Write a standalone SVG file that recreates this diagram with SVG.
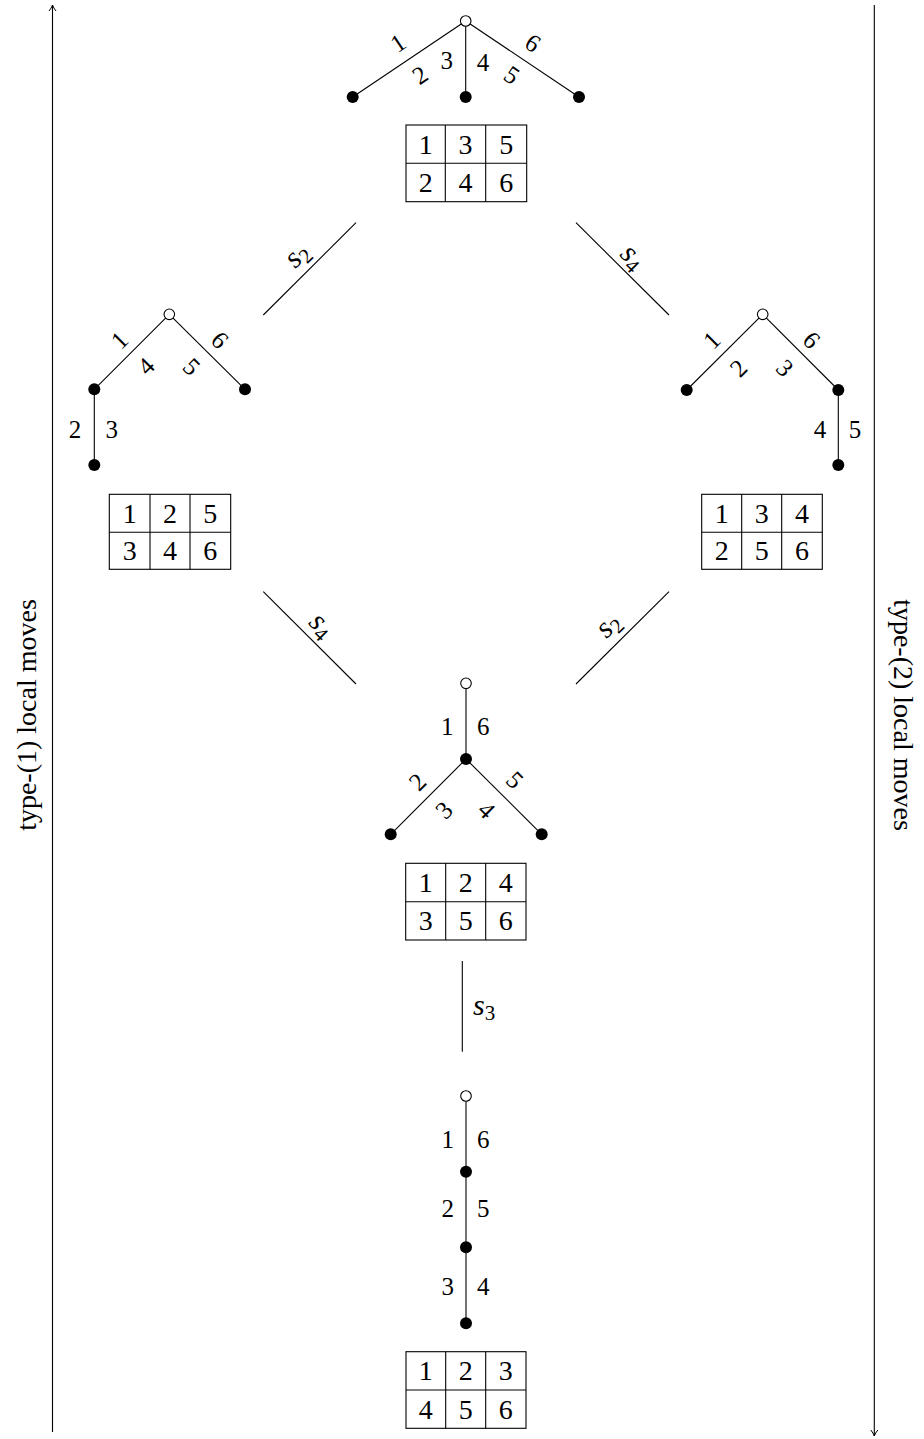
<svg xmlns="http://www.w3.org/2000/svg" width="924" height="1439" viewBox="0 0 924 1439">
<style>
text{font-family:"Liberation Serif","Times New Roman",serif;fill:#000}
.lb{font-size:25px;text-anchor:middle}
.tb{font-size:28px;text-anchor:middle}
.side{font-size:28px;text-anchor:middle}
.sl{font-size:30px;font-style:italic;text-anchor:middle}
.sub{font-size:21px;font-style:normal}
.e{stroke:#000;stroke-width:1.1;fill:none}
.c{stroke:#000;stroke-width:1.1;fill:none}
.grid{stroke:#000;stroke-width:1.1;fill:none}
.f{fill:#000}
.o{fill:#fff;stroke:#000;stroke-width:1.1}
</style>
<defs>
<marker id="ah" markerWidth="12" markerHeight="12" refX="8" refY="6" orient="auto" markerUnits="userSpaceOnUse">
<path d="M2,2.5 Q5,5 8,6 Q5,7 2,9.5" fill="none" stroke="#000" stroke-width="1"/>
</marker>
</defs>
<rect width="924" height="1439" fill="#fff"/>

<g id="side-left">
<line x1="52.5" y1="1432" x2="52.5" y2="5" class="c" marker-end="url(#ah)"/>
<text class="side" transform="translate(36,715) rotate(-90)">type-(1) local moves</text>
</g>
<g id="side-right">
<line x1="874.3" y1="5" x2="874.3" y2="1436" class="c" marker-end="url(#ah)"/>
<text class="side" transform="translate(894,715) rotate(90)">type-(2) local moves</text>
</g>

<g id="connectors">
<line class="c" x1="263.3" y1="315" x2="356" y2="222.7"/>
<text class="sl" transform="translate(296.7,255) rotate(-45)" dy="0.3em">s<tspan class="sub" dy="5">2</tspan></text>
<line class="c" x1="576" y1="222.7" x2="669" y2="315"/>
<text class="sl" transform="translate(633,256.7) rotate(45)" dy="0.3em">s<tspan class="sub" dy="5">4</tspan></text>
<line class="c" x1="263.3" y1="591.7" x2="356" y2="684"/>
<text class="sl" transform="translate(321.7,625) rotate(45)" dy="0.3em">s<tspan class="sub" dy="5">4</tspan></text>
<line class="c" x1="669" y1="591.7" x2="576" y2="684"/>
<text class="sl" transform="translate(608,625) rotate(-45)" dy="0.3em">s<tspan class="sub" dy="5">2</tspan></text>
<line class="c" x1="462.3" y1="961" x2="462.3" y2="1051.7"/>
<text class="sl" x="473" y="1015" style="text-anchor:start">s<tspan class="sub" dy="5">3</tspan></text>
</g>

<g id="node-top">
<line class="e" x1="465.7" y1="21" x2="352.7" y2="97"/>
<line class="e" x1="465.7" y1="21" x2="465.7" y2="97"/>
<line class="e" x1="465.7" y1="21" x2="579" y2="97"/>
<circle class="o" cx="465.7" cy="21" r="5.3"/>
<circle class="f" cx="352.7" cy="97" r="6"/>
<circle class="f" cx="465.7" cy="97" r="6"/>
<circle class="f" cx="579" cy="97" r="6"/>
<text class="lb" transform="translate(398,43) rotate(-33.9)" dy="0.34em">1</text>
<text class="lb" transform="translate(420,75) rotate(-33.9)" dy="0.34em">2</text>
<text class="lb" x="446.7" y="60" dy="0.34em">3</text>
<text class="lb" x="483" y="62" dy="0.34em">4</text>
<text class="lb" transform="translate(512,75) rotate(33.9)" dy="0.34em">5</text>
<text class="lb" transform="translate(533,43) rotate(33.9)" dy="0.34em">6</text>
<rect class="grid" x="406" y="125" width="120.7" height="76.7"/>
<line class="grid" x1="406" y1="163.3" x2="526.7" y2="163.3"/>
<line class="grid" x1="445.3" y1="125" x2="445.3" y2="201.7"/>
<line class="grid" x1="485.7" y1="125" x2="485.7" y2="201.7"/>
<text class="tb" x="425.7" y="144.2" dy="0.34em">1</text>
<text class="tb" x="465.5" y="144.2" dy="0.34em">3</text>
<text class="tb" x="506.2" y="144.2" dy="0.34em">5</text>
<text class="tb" x="425.7" y="182.5" dy="0.34em">2</text>
<text class="tb" x="465.5" y="182.5" dy="0.34em">4</text>
<text class="tb" x="506.2" y="182.5" dy="0.34em">6</text>
</g>

<g id="node-left">
<line class="e" x1="169.3" y1="314.3" x2="94.3" y2="389.3"/>
<line class="e" x1="169.3" y1="314.3" x2="245" y2="389.3"/>
<line class="e" x1="94.3" y1="389.3" x2="94.3" y2="465"/>
<circle class="o" cx="169.3" cy="314.3" r="5.3"/>
<circle class="f" cx="94.3" cy="389.3" r="6"/>
<circle class="f" cx="245" cy="389.3" r="6"/>
<circle class="f" cx="94.3" cy="465" r="6"/>
<text class="lb" transform="translate(119.3,340) rotate(-45)" dy="0.34em">1</text>
<text class="lb" transform="translate(146,366) rotate(-45)" dy="0.34em">4</text>
<text class="lb" transform="translate(191.7,366.7) rotate(45)" dy="0.34em">5</text>
<text class="lb" transform="translate(220,340) rotate(45)" dy="0.34em">6</text>
<text class="lb" x="75" y="429" dy="0.34em">2</text>
<text class="lb" x="111.7" y="429" dy="0.34em">3</text>
<rect class="grid" x="109.3" y="494.3" width="121.4" height="75"/>
<line class="grid" x1="109.3" y1="532.3" x2="230.7" y2="532.3"/>
<line class="grid" x1="150" y1="494.3" x2="150" y2="569.3"/>
<line class="grid" x1="190" y1="494.3" x2="190" y2="569.3"/>
<text class="tb" x="129.7" y="513.3" dy="0.34em">1</text>
<text class="tb" x="170" y="513.3" dy="0.34em">2</text>
<text class="tb" x="210.3" y="513.3" dy="0.34em">5</text>
<text class="tb" x="129.7" y="550.8" dy="0.34em">3</text>
<text class="tb" x="170" y="550.8" dy="0.34em">4</text>
<text class="tb" x="210.3" y="550.8" dy="0.34em">6</text>
</g>

<g id="node-right">
<line class="e" x1="762.7" y1="314.3" x2="686.7" y2="390"/>
<line class="e" x1="762.7" y1="314.3" x2="838.3" y2="390"/>
<line class="e" x1="838.3" y1="390" x2="838.3" y2="465"/>
<circle class="o" cx="762.7" cy="314.3" r="5.3"/>
<circle class="f" cx="686.7" cy="390" r="6"/>
<circle class="f" cx="838.3" cy="390" r="6"/>
<circle class="f" cx="838.3" cy="465" r="6"/>
<text class="lb" transform="translate(711.7,340) rotate(-45)" dy="0.34em">1</text>
<text class="lb" transform="translate(738.3,368) rotate(-45)" dy="0.34em">2</text>
<text class="lb" transform="translate(785,368) rotate(45)" dy="0.34em">3</text>
<text class="lb" transform="translate(811.7,340) rotate(45)" dy="0.34em">6</text>
<text class="lb" x="820" y="429" dy="0.34em">4</text>
<text class="lb" x="855" y="429" dy="0.34em">5</text>
<rect class="grid" x="701.7" y="494.3" width="120.6" height="75"/>
<line class="grid" x1="701.7" y1="532.3" x2="822.3" y2="532.3"/>
<line class="grid" x1="741.7" y1="494.3" x2="741.7" y2="569.3"/>
<line class="grid" x1="781.7" y1="494.3" x2="781.7" y2="569.3"/>
<text class="tb" x="721.7" y="513.3" dy="0.34em">1</text>
<text class="tb" x="761.7" y="513.3" dy="0.34em">3</text>
<text class="tb" x="802" y="513.3" dy="0.34em">4</text>
<text class="tb" x="721.7" y="550.8" dy="0.34em">2</text>
<text class="tb" x="761.7" y="550.8" dy="0.34em">5</text>
<text class="tb" x="802" y="550.8" dy="0.34em">6</text>
</g>

<g id="node-middle">
<line class="e" x1="466" y1="683.3" x2="466" y2="759"/>
<line class="e" x1="466" y1="759" x2="390.7" y2="834.3"/>
<line class="e" x1="466" y1="759" x2="541.7" y2="834.3"/>
<circle class="o" cx="466" cy="683.3" r="5.3"/>
<circle class="f" cx="466" cy="759" r="6"/>
<circle class="f" cx="390.7" cy="834.3" r="6"/>
<circle class="f" cx="541.7" cy="834.3" r="6"/>
<text class="lb" x="447.3" y="726" dy="0.34em">1</text>
<text class="lb" x="483.3" y="726" dy="0.34em">6</text>
<text class="lb" transform="translate(417.3,781.7) rotate(-45)" dy="0.34em">2</text>
<text class="lb" transform="translate(444,810) rotate(-45)" dy="0.34em">3</text>
<text class="lb" transform="translate(486.7,810) rotate(45)" dy="0.34em">4</text>
<text class="lb" transform="translate(515,780) rotate(45)" dy="0.34em">5</text>
<rect class="grid" x="405.7" y="863.3" width="120.3" height="76.7"/>
<line class="grid" x1="405.7" y1="901.7" x2="526" y2="901.7"/>
<line class="grid" x1="445.7" y1="863.3" x2="445.7" y2="940"/>
<line class="grid" x1="485.7" y1="863.3" x2="485.7" y2="940"/>
<text class="tb" x="425.7" y="882.5" dy="0.34em">1</text>
<text class="tb" x="465.7" y="882.5" dy="0.34em">2</text>
<text class="tb" x="505.8" y="882.5" dy="0.34em">4</text>
<text class="tb" x="425.7" y="920.8" dy="0.34em">3</text>
<text class="tb" x="465.7" y="920.8" dy="0.34em">5</text>
<text class="tb" x="505.8" y="920.8" dy="0.34em">6</text>
</g>

<g id="node-bottom">
<line class="e" x1="466" y1="1096" x2="466" y2="1323.3"/>
<circle class="o" cx="466" cy="1096" r="5.3"/>
<circle class="f" cx="466" cy="1171.7" r="6"/>
<circle class="f" cx="466" cy="1247.3" r="6"/>
<circle class="f" cx="466" cy="1323.3" r="6"/>
<text class="lb" x="447.7" y="1139.3" dy="0.34em">1</text>
<text class="lb" x="483.3" y="1139.3" dy="0.34em">6</text>
<text class="lb" x="447.7" y="1208" dy="0.34em">2</text>
<text class="lb" x="483.3" y="1208" dy="0.34em">5</text>
<text class="lb" x="447.7" y="1286.7" dy="0.34em">3</text>
<text class="lb" x="483.3" y="1286.7" dy="0.34em">4</text>
<rect class="grid" x="406" y="1351.7" width="120" height="76.6"/>
<line class="grid" x1="406" y1="1390" x2="526" y2="1390"/>
<line class="grid" x1="445.7" y1="1351.7" x2="445.7" y2="1428.3"/>
<line class="grid" x1="485.7" y1="1351.7" x2="485.7" y2="1428.3"/>
<text class="tb" x="425.8" y="1370.8" dy="0.34em">1</text>
<text class="tb" x="465.7" y="1370.8" dy="0.34em">2</text>
<text class="tb" x="505.8" y="1370.8" dy="0.34em">3</text>
<text class="tb" x="425.8" y="1409.2" dy="0.34em">4</text>
<text class="tb" x="465.7" y="1409.2" dy="0.34em">5</text>
<text class="tb" x="505.8" y="1409.2" dy="0.34em">6</text>
</g>
</svg>
